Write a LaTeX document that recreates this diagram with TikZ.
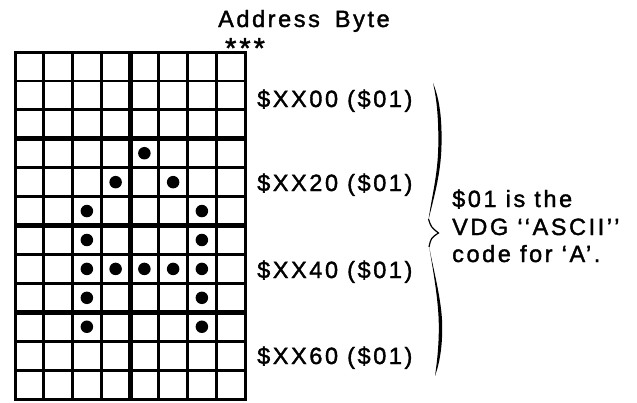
\documentclass[tikz,border=0pt]{standalone}
\usepackage{fontspec}
\newfontfamily\labfont[LetterSpace=11,FakeBold=1.6]{Liberation Sans}
\begin{document}
\begin{tikzpicture}[x=1pt,y=-1pt,
  thingrid/.style={line width=2.8pt},
  thickgrid/.style={line width=5pt},
  dot/.style={circle,fill=black,inner sep=0pt,minimum size=12.5pt},
  lab/.style={font=\labfont\fontsize{23.5}{28}\selectfont, inner sep=0pt, anchor=base west}]
\useasboundingbox (0,0) rectangle (637,402);
\def\cw{28.75}
\def\ch{28.92}
% grid
\foreach \i in {0,...,8} \draw[thingrid] ({15+\i*\cw},52) -- ({15+\i*\cw},399);
\foreach \j in {0,...,12} \draw[thingrid] (15,{52+\j*\ch}) -- (245,{52+\j*\ch});
\draw[thickgrid] (130,52) -- (130,399);
\foreach \j in {3,6,9} \draw[thickgrid] (15,{52+\j*\ch}) -- (245,{52+\j*\ch});
\draw[line width=3pt] (15,52) rectangle (245,399);
% dots forming the letter A
\foreach \c/\r [count=\k] in {4/3,3/4,5/4,2/5,6/5,2/6,6/6,2/7,3/7,4/7,5/7,6/7,2/8,6/8,2/9,6/9}
  \node[dot] (d\k) at ({15+(\c+0.5)*\cw},{52+(\r+0.5)*\ch}) {};
% texts
\node[lab] (title) at (218,27) {Address\hspace{15pt}Byte};
\node[lab,anchor=base,font=\labfont\fontsize{29}{30}\selectfont] (stars) at (245,58) {*\hspace{3pt}*\hspace{3pt}*};
\node[lab] (l00) at (257,107) {\$XX00 (\$01)};
\node[lab] (l20) at (257,191) {\$XX20 (\$01)};
\node[lab] (l40) at (257,278) {\$XX40 (\$01)};
\node[lab] (l60) at (257,364) {\$XX60 (\$01)};
\node[lab] (n1) at (452,207) {\$01 is the};
\node[lab] (n2) at (452,235) {VDG ‘‘ASCII’’};
\node[lab] (n3) at (452,262) {code for ‘A’.};
% brace
\fill (433,83) .. controls (440,100) and (442,120) .. (441.5,145)
  .. controls (441,175) and (433,200) .. (428.5,220)
  .. controls (431,200) and (438,175) .. (438.3,145)
  .. controls (438.6,120) and (437,100) .. (433,83) -- cycle;
\draw[line width=1.2pt] (428.5,219) .. controls (431,227) .. (438.5,233) .. controls (431,238) .. (429,247);
\fill (429,246) .. controls (433,270) and (438.5,300) .. (438.8,325)
  .. controls (439,345) and (437,362) .. (435,376)
  .. controls (440,362) and (442.5,345) .. (442.2,325)
  .. controls (441.8,300) and (433,268) .. (429,246) -- cycle;
\end{tikzpicture}
\end{document}
